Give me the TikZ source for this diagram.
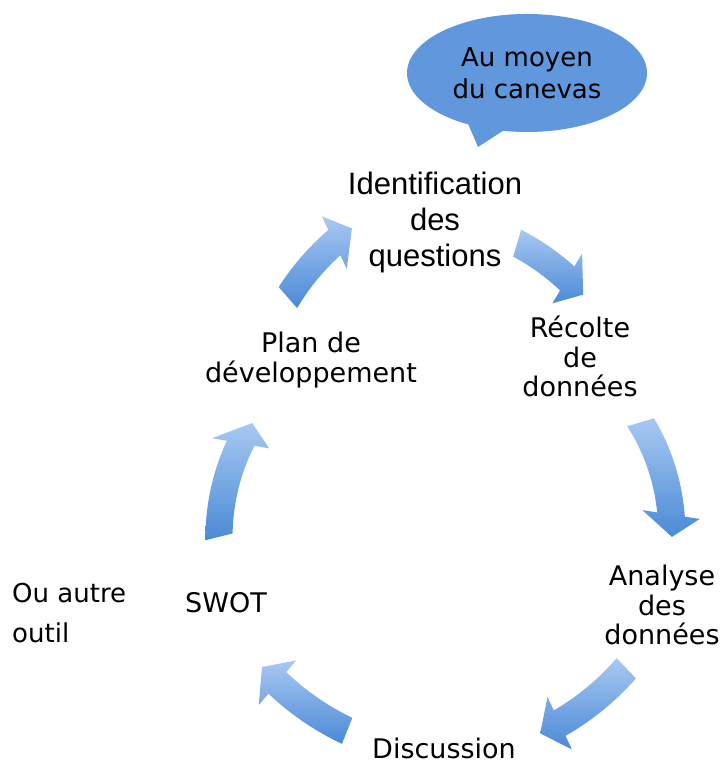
\documentclass[tikz,border=0pt]{standalone}
\usepackage{fontspec}
\setmainfont{DejaVu Sans}
\newfontfamily\arialfont{Liberation Sans}
\usepackage{tikz}
\usetikzlibrary{shapes.geometric}
\definecolor{arrowtop}{RGB}{168,200,242}
\definecolor{arrowbot}{RGB}{74,138,214}
\definecolor{bubblefill}{RGB}{96,151,221}
% curved block arrow round the cycle centre: #1 start angle, #2 tip angle, #3 radius at start, #4 radius at tip
\newcommand{\cyclearrow}[4]{%
  \pgfmathsetmacro{\headang}{#2+22/#4*57.3}%
  \pgfmathsetmacro{\headrad}{#3+(#4-(#3))*(\headang-(#1))/(#2-(#1))}%
  \shade[top color=arrowtop, bottom color=arrowbot]
    plot[domain=#1:\headang, samples=16, variable=\t] ({\t}:{#3+(#4-(#3))*(\t-(#1))/(#2-(#1))+14})
    -- ({\headang}:{\headrad+29}) -- ({#2}:{#4}) -- ({\headang}:{\headrad-29})
    -- plot[domain=\headang:#1, samples=16, variable=\t] ({\t}:{#3+(#4-(#3))*(\t-(#1))/(#2-(#1))-14})
    -- cycle;}

\begin{document}
\begin{tikzpicture}[x=1pt, y=1pt,
    stepnode/.style={align=center, inner sep=0pt, font=\fontsize{27}{29.5}\selectfont},
    bubble/.style={ellipse, fill=bubblefill, inner sep=0pt, minimum width=240pt,
      minimum height=118pt, align=center, font=\fontsize{26}{32}\selectfont}]
  \useasboundingbox (0,0) rectangle (726,765);
  % speech bubble
  \node[bubble] (canevas) at (527,692) {Au moyen\\du canevas};
  \fill[bubblefill] (466,646) -- (478,618) -- (512,640) -- cycle;
  % steps
  \node[stepnode, anchor=north, font=\arialfont\fontsize{31}{36}\selectfont] (ident) at (435,593) {Identification\\des\\questions};
  \node[stepnode, anchor=north] (recolte) at (580,449) {Récolte\\de\\données};
  \node[stepnode, anchor=north] (analyse) at (662,200) {Analyse\\des\\données};
  \node[stepnode, anchor=base] (discussion) at (444,6) {Discussion};
  \node[stepnode, anchor=base] (swot) at (226,152) {SWOT};
  \node[stepnode, anchor=north] (plan) at (311,433) {Plan de\\développement};
  \node[anchor=north west, align=left, inner sep=0pt, font=\fontsize{26}{40}\selectfont] (outil) at (12,182) {Ou autre\\outil};
  % arrows
  \begin{scope}[shift={(447,285)}]
    \cyclearrow{73.5}{53.7}{247}{230}
    \cyclearrow{16.6}{-14.2}{202}{232}
    \cyclearrow{-46.4}{-69.8}{260}{270}
    \cyclearrow{-111.7}{-134.7}{270}{263}
    \cyclearrow{194}{163.7}{235}{203}
    \cyclearrow{131.1}{110.7}{242}{269}
  \end{scope}
\end{tikzpicture}
\end{document}
